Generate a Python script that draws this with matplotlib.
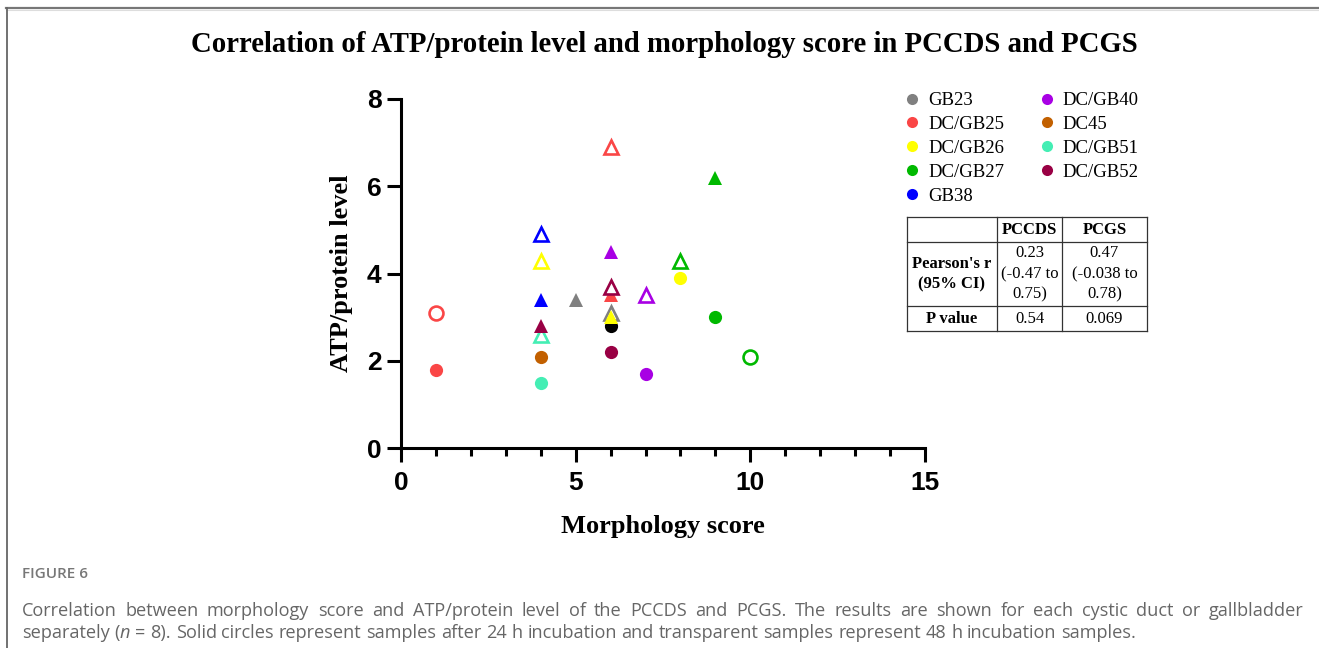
import matplotlib
matplotlib.use("Agg")
import matplotlib.pyplot as plt
from matplotlib.lines import Line2D
import numpy as np

W, H = 1319, 648
nan = np.nan

# ---------- data ----------
SAMPLES = ["GB23", "DC/GB25", "DC/GB26", "DC/GB27", "GB38",
           "DC/GB40", "DC45", "DC/GB51", "DC/GB52"]
COLORS = ["#808080", "#FA4646", "#FFFF00", "#00B900", "#0000FF",
          "#A800E4", "#C26000", "#44EEB4", "#990044"]

# PCCDS (circles), 24 h = filled, 48 h = open
pccds_24_x = [nan, 1, 8, 9, nan, 7, 4, 4, 6]
pccds_24_y = [nan, 1.8, 3.9, 3.0, nan, 1.7, 2.1, 1.5, 2.2]
pccds_48_x = [nan, 1, nan, 10, nan, nan, nan, nan, nan]
pccds_48_y = [nan, 3.1, nan, 2.1, nan, nan, nan, nan, nan]
# PCGS (triangles), 24 h = filled, 48 h = open
pcgs_24_x = [5, 6, 6, 9, 4, 6, nan, nan, 4]
pcgs_24_y = [3.4, 3.5, 3.0, 6.2, 3.4, 4.5, nan, nan, 2.8]
pcgs_48_x = [6, 6, 4, 8, 4, 7, nan, 4, 6]
pcgs_48_y = [3.1, 6.9, 4.3, 4.3, 4.9, 3.5, nan, 2.6, 3.7]

# unlabelled black point, partly hidden at x=6
extra_x = [6]
extra_y = [2.8]

TABLE_COLS = ["", "PCCDS", "PCGS"]
TABLE_ROWS = [
    ["Pearson's r\n(95% CI)", "0.23\n(-0.47 to\n0.75)", "0.47\n(-0.038 to\n0.78)"],
    ["P value", "0.54", "0.069"],
]

TITLE = "Correlation of ATP/protein level and morphology score in PCCDS and PCGS"
CAP_HEAD = "FIGURE 6"
CAP_LINE1 = ("Correlation between morphology score and ATP/protein level of the PCCDS "
             "and PCGS. The results are shown for each cystic duct or gallbladder")
CAP_LINE2 = [("separately (", "normal"), ("n", "italic"),
             (" = 8). Solid circles represent samples after 24 h incubation and "
              "transparent samples represent 48 h incubation samples.", "normal")]

SERIF = "Liberation Serif"
SANS = "Liberation Sans"
CAPF = "Open Sans"

# ---------- figure ----------
fig = plt.figure(figsize=(W / 100, H / 100), dpi=100)
ax = fig.add_axes([401 / W, 1 - 448.3 / H, 524 / W, 349.3 / H])

ax.plot(extra_x, extra_y, "o", color="black", ms=9.5, mew=0, zorder=2)

for i, c in enumerate(COLORS):
    z = 3 + i
    ax.plot(pccds_24_x[i], pccds_24_y[i], "o", color=c, ms=9.5, mew=0, zorder=z)
    ax.plot(pccds_48_x[i], pccds_48_y[i], "o", mfc="white", mec=c, ms=10, mew=1.9, zorder=z)
    ax.plot(pcgs_24_x[i], pcgs_24_y[i], "^", color=c, ms=10, mew=0, zorder=z)
    ax.plot(pcgs_48_x[i], pcgs_48_y[i], "^", mfc="white", mec=c, ms=9.5, mew=1.9, zorder=z)

ax.set_xlim(0, 15)
ax.set_ylim(0, 8)
ax.set_xticks([0, 5, 10, 15])
ax.set_xticks(range(16), minor=True)
ax.set_yticks([0, 2, 4, 6, 8])
for s in ["top", "right"]:
    ax.spines[s].set_visible(False)
for s in ["left", "bottom"]:
    ax.spines[s].set_linewidth(2.2)
ax.tick_params(which="major", length=10, width=2.2, pad=4)
ax.tick_params(which="minor", length=5.5, width=2.2)
ax.tick_params(axis="x", which="major", pad=6)
for lab in ax.get_xticklabels() + ax.get_yticklabels():
    lab.set_fontfamily(SANS)
    lab.set_fontweight("bold")
    lab.set_fontsize(19)

ax.set_xlabel("Morphology score", family=SERIF, weight="bold", fontsize=19, va="center")
ax.xaxis.set_label_coords(0.5, -0.225)
ax.set_ylabel("ATP/protein level", family=SERIF, weight="bold", fontsize=19, va="center")
ax.yaxis.set_label_coords(-0.1126, 0.502)

fig.text(664 / W, 1 - 45 / H, TITLE, ha="center", va="center",
         family=SERIF, weight="bold", fontsize=20.7)

# legend (circles only)
handles = [Line2D([], [], ls="none", marker="o", color=c, ms=8, mew=0, label=n)
           for n, c in zip(SAMPLES, COLORS)]
fig.legend(handles=handles, loc="upper left", bbox_to_anchor=(903 / W, 1 - 92 / H),
           ncol=2, frameon=False, prop={"family": SERIF, "size": 13.5},
           handlelength=1.0, handletextpad=0.35, columnspacing=1.75,
           labelspacing=0.36, borderpad=0, borderaxespad=0)

# ---------- table ----------
tab = fig.add_axes([907 / W, 1 - 331 / H, 240 / W, 114 / H])
tab.set_xlim(0, 240)
tab.set_ylim(114, 0)
tab.axis("off")
col_edges = [0, 90, 155, 240]
row_edges = [0, 25, 89, 114]
for x in col_edges:
    tab.plot([x, x], [0, 114], color="#333333", lw=0.9, clip_on=False)
for y in row_edges:
    tab.plot([0, 240], [y, y], color="#333333", lw=0.9, clip_on=False)
rows = [TABLE_COLS] + TABLE_ROWS
for r, row in enumerate(rows):
    yc = (row_edges[r] + row_edges[r + 1]) / 2
    for c, txt in enumerate(row):
        xc = (col_edges[c] + col_edges[c + 1]) / 2
        bold = (r == 0) or (c == 0)
        tab.text(xc, yc, txt, ha="center", va="center", family=SERIF,
                 weight="bold" if bold else "normal", fontsize=12, linespacing=1.4)

# ---------- frame + caption ----------
fig.add_artist(Line2D([6 / W, 1], [1 - 8 / H, 1 - 8 / H], color="#777777", lw=1.6))
fig.add_artist(Line2D([6 / W, 1], [1 - 10 / H, 1 - 10 / H], color="#dddddd", lw=0.8))
fig.add_artist(Line2D([6.5 / W, 6.5 / W], [0, 1 - 8 / H], color="#666666", lw=1.3))

fig.text(22 / W, 1 - 574 / H, CAP_HEAD, ha="left", va="center", family=CAPF,
         weight="semibold", fontsize=11, color="#777777")

cap_kw = dict(family=CAPF, fontsize=13.1, color="#666666", va="center", ha="left")
fig.canvas.draw()
rend = fig.canvas.get_renderer()


def text_w(s, style="normal"):
    t = fig.text(0, 0, s, fontstyle=style, **cap_kw)
    w = t.get_window_extent(rend).width
    t.remove()
    return w


# line 1: justified between x=22 and x=1303
words = CAP_LINE1.split(" ")
widths = [text_w(w) for w in words]
gap = (1303 - 22 - sum(widths)) / (len(words) - 1)
x = 22.0
for w, wd in zip(words, widths):
    fig.text(x / W, 1 - 611 / H, w, **cap_kw)
    x += wd + gap

# line 2: natural spacing, italic n
space = text_w("a a") - text_w("aa")
x = 22.0
for seg, style in CAP_LINE2:
    parts = seg.split(" ")
    for k, p in enumerate(parts):
        if k > 0:
            x += space
        if p:
            fig.text(x / W, 1 - 633 / H, p, fontstyle=style, **cap_kw)
            x += text_w(p, style)

fig.savefig("out.png", dpi=100)
